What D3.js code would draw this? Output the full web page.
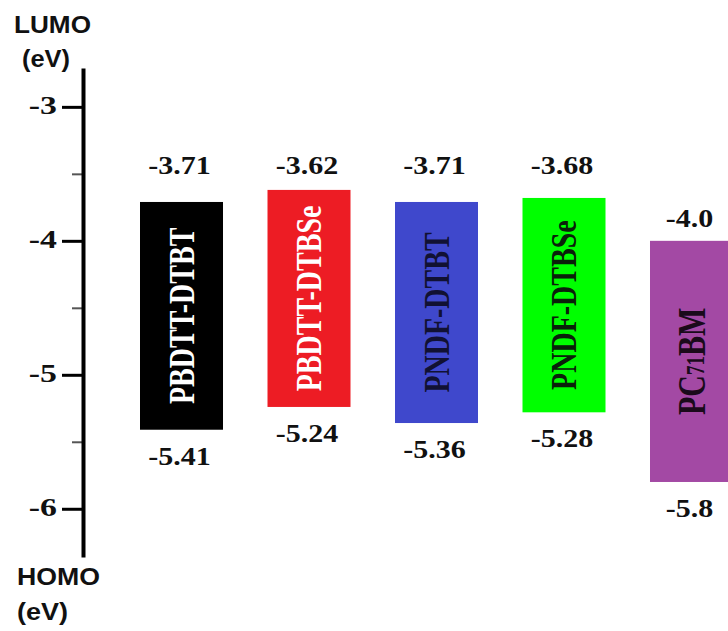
<!DOCTYPE html>
<html>
<head>
<meta charset="utf-8">
<script src="https://cdn.jsdelivr.net/npm/d3@7"></script>
<style>
  html, body { margin: 0; padding: 0; background: #fff; }
  svg { display: block; }
</style>
</head>
<body>
<svg id="chart" width="728" height="631"></svg>
<script>
// ---- data ----
const materials = ["PBDTT-DTBT", "PBDTT-DTBSe", "PNDF-DTBT", "PNDF-DTBSe", "PC71BM"];
const lumo = [-3.71, -3.62, -3.71, -3.68, -4.0];
const homo = [-5.41, -5.24, -5.36, -5.28, -5.8];
const lumoLabels = ["-3.71", "-3.62", "-3.71", "-3.68", "-4.0"];
const homoLabels = ["-5.41", "-5.24", "-5.36", "-5.28", "-5.8"];
const barColors = ["#000000", "#ed1c24", "#3f48cc", "#00ff00", "#a349a4"];
const nameColors = ["#ffffff", "#ffffff", "#111133", "#0a200a", "#1a0a1a"];
const majorTicks = [-3, -4, -5, -6];
const minorTicks = [-3.5, -4.5, -5.5];

const svg = d3.select("#chart");
const serif = "Liberation Serif, Times New Roman, serif";
const sans = "Liberation Sans, Arial, sans-serif";
const SX = 1.2; // horizontal stretch of the original picture

const y = d3.scaleLinear().domain([-2.71, -6.36]).range([68, 557]);
const x = d3.scaleBand().domain(materials).range([140, 733]).paddingInner(0.349).paddingOuter(0);

const axisX = 83;

// minor ticks
const minorG = svg.append("g").attr("transform", `translate(${axisX},0)`)
  .call(d3.axisLeft(y).tickValues(minorTicks).tickSize(11).tickSizeOuter(0).tickFormat(""));
minorG.select(".domain").remove();
minorG.selectAll(".tick line").attr("stroke", "#555").attr("stroke-width", 2);

// major axis
const axisG = svg.append("g").attr("transform", `translate(${axisX},0)`)
  .call(d3.axisLeft(y).tickValues(majorTicks).tickSize(21).tickSizeOuter(0).tickPadding(5)
    .tickFormat(d => String(d)));
axisG.attr("font-family", serif).attr("font-size", 26);
axisG.select(".domain").attr("stroke", "#000").attr("stroke-width", 4);
axisG.selectAll(".tick line").attr("stroke", "#000").attr("stroke-width", 3);
axisG.selectAll(".tick text")
  .attr("x", null)
  .attr("transform", `translate(-26,-1) scale(1.3,1)`)
  .attr("text-anchor", "end")
  .attr("dy", "0.3em")
  .attr("font-family", serif)
  .attr("font-weight", "bold")
  .attr("font-size", 26)
  .attr("fill", "#111");

// axis titles
const titleStyle = sel => sel.attr("font-family", sans).attr("font-weight", "bold")
  .attr("font-size", 24).attr("fill", "#111");
svg.append("text").attr("x", 14).attr("y", 33).text("LUMO")
  .attr("textLength", 77).attr("lengthAdjust", "spacingAndGlyphs").call(titleStyle);
svg.append("text").attr("x", 22).attr("y", 67).text("(eV)")
  .attr("textLength", 48).attr("lengthAdjust", "spacingAndGlyphs").call(titleStyle);
svg.append("text").attr("x", 17).attr("y", 585).text("HOMO")
  .attr("textLength", 83).attr("lengthAdjust", "spacingAndGlyphs").call(titleStyle);
svg.append("text").attr("x", 17).attr("y", 620).text("(eV)")
  .attr("textLength", 51).attr("lengthAdjust", "spacingAndGlyphs").call(titleStyle);

// bars
const rows = materials.map((m, i) => ({ m, i, top: lumo[i], bot: homo[i] }));
svg.append("g").selectAll("rect").data(rows).join("rect")
  .attr("x", d => x(d.m))
  .attr("y", d => y(d.top))
  .attr("width", x.bandwidth())
  .attr("height", d => y(d.bot) - y(d.top))
  .attr("fill", d => barColors[d.i]);

// names inside bars
const nameG = svg.append("g").selectAll("text").data(rows).join("text")
  .attr("transform", d => {
    const cx = x(d.m) + x.bandwidth() / 2;
    const cy = (y(d.top) + y(d.bot)) / 2;
    return `translate(${cx},${cy}) scale(1.3,1) rotate(-90)`;
  })
  .attr("text-anchor", "middle")
  .attr("dominant-baseline", "central")
  .attr("font-family", serif)
  .attr("font-weight", "bold")
  .attr("font-size", 28)
  .attr("fill", d => nameColors[d.i]);
nameG.each(function(d) {
  const t = d3.select(this);
  if (d.m === "PC71BM") {
    t.attr("font-size", 30);
    t.append("tspan").text("PC");
    t.append("tspan").text("71").attr("font-size", 19).attr("dy", 3);
    t.append("tspan").text("BM").attr("dy", -3);
  } else {
    t.text(d.m);
  }
});

// value labels
const labelLine = y(-3.5);
const valStyle = sel => sel.attr("text-anchor", "middle")
  .attr("font-family", serif).attr("font-weight", "bold")
  .attr("font-size", 25).attr("fill", "#111");
svg.append("g").selectAll("text").data(rows).join("text")
  .attr("transform", d => {
    const cx = x(d.m) + x.bandwidth() / 2 - 2;
    const above = y(d.top) - 14;
    const by = (above - labelLine > 40) ? above : Math.min(above, labelLine);
    return `translate(${cx},${by}) scale(${SX},1)`;
  })
  .text(d => lumoLabels[d.i])
  .call(valStyle);
svg.append("g").selectAll("text").data(rows).join("text")
  .attr("transform", d => {
    const cx = x(d.m) + x.bandwidth() / 2 - 2;
    const by = y(d.bot) + 35;
    return `translate(${cx},${by}) scale(${SX},1)`;
  })
  .text(d => homoLabels[d.i])
  .call(valStyle);
</script>
</body>
</html>
